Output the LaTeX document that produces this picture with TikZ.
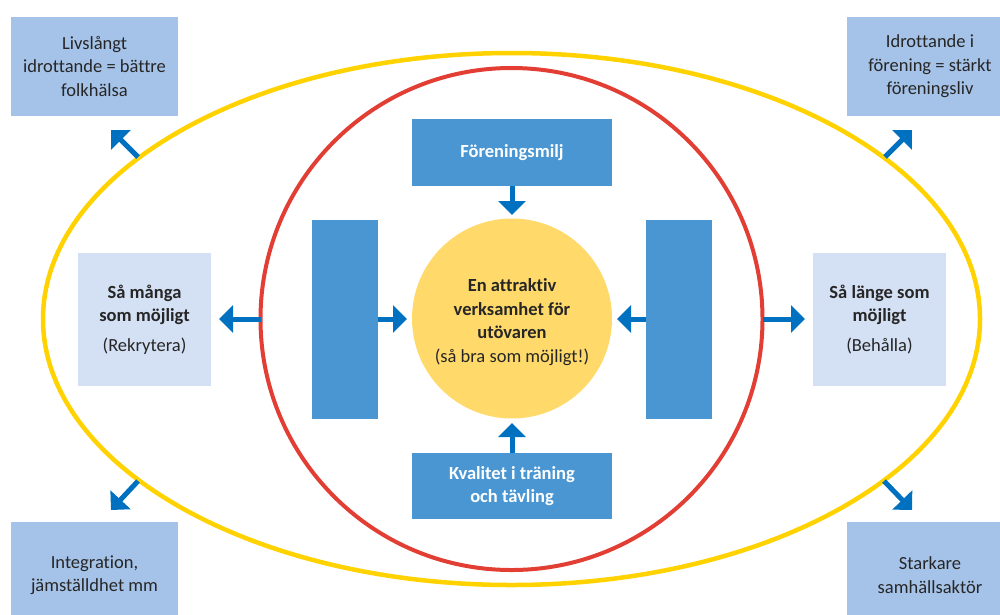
\documentclass[tikz,border=0pt]{standalone}
\usepackage{fontspec}
\setmainfont{Carlito}[Ligatures={NoCommon}]
\usetikzlibrary{arrows.meta}
\definecolor{cornerblue}{RGB}{165,195,232}
\definecolor{paleblue}{RGB}{212,224,243}
\definecolor{midblue}{RGB}{74,150,210}
\definecolor{arrowblue}{RGB}{0,112,192}
\definecolor{sunyellow}{RGB}{255,218,106}
\definecolor{ringyellow}{RGB}{255,210,0}
\definecolor{ringred}{RGB}{226,62,52}
\tikzset{
  txt/.style={font=\fontsize{18.5}{23.5}\selectfont, align=center, text=black!85, inner sep=0pt},
  cornerbox/.style={txt, fill=cornerblue, minimum width=167pt, minimum height=99pt},
  palebox/.style={txt, fill=paleblue, minimum width=133pt, minimum height=133pt},
  bluebox/.style={font=\bfseries\fontsize{18.5}{22.5}\selectfont, align=center, text=white, fill=midblue, inner sep=0pt, minimum width=200pt},
  bar/.style={fill=midblue, inner sep=0pt, minimum width=66pt, minimum height=199pt},
  arr/.style={arrowblue, line width=5pt, -{Triangle[width=27pt,length=14pt]}},
}
\begin{document}
\begin{tikzpicture}[x=1pt,y=-1pt]
\useasboundingbox (0,0) rectangle (1000,614);
% rings
\draw[ringyellow, line width=4.5pt] (511.5,319) ellipse [x radius=468.5, y radius=266];
\draw[ringred, line width=4pt] (511.5,319) circle [radius=251];
% corner boxes
\node[cornerbox] (tl) at (94.5,66.5) {Livslångt\\idrottande = bättre\\folkhälsa};
\node[cornerbox] (tr) at (930,66.5) {Idrottande i\\förening = stärkt\\föreningsliv};
\node[cornerbox, minimum height=106pt] (bl) at (94.5,575) {Integration,\\jämställdhet mm};
\node[cornerbox, minimum height=106pt] (br) at (930,575) {Starkare\\samhällsaktör};
% pale boxes
\node[palebox] (lbox) at (144.5,319.5) {\textbf{Så många}\\\textbf{som möjligt}\\[6pt](Rekrytera)};
\node[palebox] (rbox) at (879.5,319.5) {\textbf{Så länge som}\\\textbf{möjligt}\\[6pt](Behålla)};
% inner boxes
\node[bluebox, minimum height=67pt] (topbox) at (512,152.5) {Föreningsmilj};
\node[bluebox, minimum height=66pt] (botbox) at (512,486) {Kvalitet i träning\\och tävling};
\node[bar] (lbar) at (345,319) {};
\node[bar] (rbar) at (679,319) {};
% centre
\node[circle, fill=sunyellow, minimum size=200pt, inner sep=0pt] (ctr) at (512,318.5) {};
\node[txt] (ctrtext) at (512,322) {\textbf{En attraktiv}\\\textbf{verksamhet för}\\\textbf{utövaren}\\(så bra som möjligt!)};
% arrow end points
\coordinate (tlA) at (138,157); \coordinate (tlB) at (111,130);
\coordinate (trA) at (885,157); \coordinate (trB) at (912,130);
\coordinate (blA) at (138,481); \coordinate (blB) at (111,510);
\coordinate (brA) at (884,481); \coordinate (brB) at (912,510);
\coordinate (lA) at (261,319); \coordinate (lB) at (219,319);
\coordinate (rA) at (763,319); \coordinate (rB) at (805,319);
\coordinate (ilB) at (407,319); \coordinate (irB) at (617,319);
\coordinate (itB) at (512,215); \coordinate (ibB) at (512,423);
% arrows
\draw[arr] (tlA) -- (tlB);
\draw[arr] (trA) -- (trB);
\draw[arr] (blA) -- (blB);
\draw[arr] (brA) -- (brB);
\draw[arr] (lA) -- (lB);
\draw[arr] (rA) -- (rB);
\draw[arr] (lbar.east) -- (ilB);
\draw[arr] (rbar.west) -- (irB);
\draw[arr] (topbox.south) -- (itB);
\draw[arr] (botbox.north) -- (ibB);
\end{tikzpicture}
\end{document}
